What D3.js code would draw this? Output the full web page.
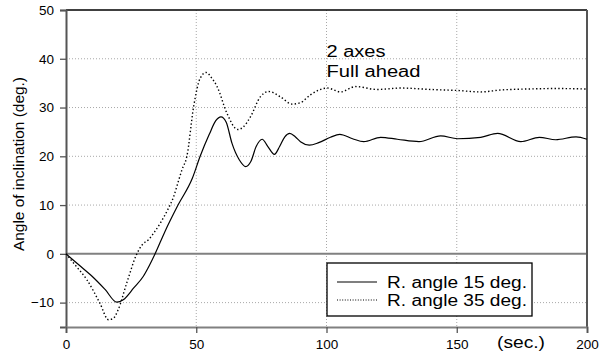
<!DOCTYPE html>
<html>
<head>
<meta charset="utf-8">
<script src="https://cdn.jsdelivr.net/npm/d3@7"></script>
<style>
  body { margin: 0; background: #fff; }
  text { font-family: "Liberation Sans", Arial, sans-serif; fill: #000; }
</style>
</head>
<body>
<div id="chart"></div>
<script>
// tick values
const xTicks = [0, 50, 100, 150, 200];
const yTicks = [-10, 0, 10, 20, 30, 40, 50];

// R. angle 15 deg. (solid)
const time15 = [0, 5, 10, 15, 19.5, 22, 26, 29.7, 32, 34.2, 38, 43, 48.5, 51.5, 55, 57.5, 59.5, 61.5, 63.7, 66.5, 69, 71, 73, 75.3, 77.5, 80, 82, 84, 85.9, 88, 90, 93.4, 97, 101.5, 105.1, 110, 114.3, 120.8, 127.2, 135.5, 143.8, 150.3, 159.2, 165.7, 174.6, 181.7, 188, 195.8, 200];
const angle15 = [0, -2.3, -4.6, -7.3, -9.9, -9.4, -7, -4.6, -2.4, 0, 4.6, 10, 15.5, 20, 24.5, 27.3, 28.1, 27, 22.7, 19.3, 17.9, 19, 22, 23.5, 22, 20.4, 22, 24, 24.7, 24, 23, 22.3, 22.8, 23.9, 24.5, 23.6, 23.0, 23.9, 23.5, 23.0, 24.2, 23.6, 23.9, 24.7, 23.0, 23.9, 23.4, 24.0, 23.5];

// R. angle 35 deg. (dotted)
const time35 = [0, 4, 8, 13, 16.3, 18, 20, 23.3, 27.2, 29.5, 31.7, 34, 36.2, 39, 41.3, 43.2, 44.5, 46.4, 49, 51.5, 53.8, 56, 58, 61.8, 65.9, 68, 70.8, 74.6, 77.8, 82.3, 86.8, 90, 93.8, 100.3, 105.4, 111.2, 119.5, 128.5, 140, 150.3, 159.2, 166.9, 177.2, 188, 200];
const angle35 = [0, -2.6, -5.3, -10.1, -13.5, -13.3, -11.5, -6, 0, 2, 2.9, 4.5, 6.3, 9, 11.7, 15, 17.2, 20, 30.2, 36, 37.2, 36, 34.3, 28.8, 25.5, 26, 28.1, 32.2, 33.3, 32.2, 30.7, 31, 32.6, 34, 33.2, 34.3, 33.7, 34, 33.7, 33.5, 33.2, 33.6, 33.8, 33.9, 33.8];

const legendLabels = ["R. angle 15 deg.", "R. angle 35 deg."];

const width = 605, height = 354;
const margin = { top: 10, right: 18, bottom: 27, left: 66 };
const innerW = width - margin.left - margin.right;
const innerH = height - margin.top - margin.bottom;

// the original text is drawn wider than Liberation Sans
function stretch(sel, w) {
  sel.attr("textLength", w).attr("lengthAdjust", "spacingAndGlyphs");
}

const svg = d3.select("#chart").append("svg")
  .attr("width", width)
  .attr("height", height);

const g = svg.append("g")
  .attr("transform", "translate(" + margin.left + "," + margin.top + ")");

const x = d3.scaleLinear().domain([0, 200]).range([0, innerW]);
const y = d3.scaleLinear().domain([-15, 50]).range([innerH, 0]);

// grid
g.selectAll(".hgrid").data(yTicks.filter(d => d !== 0 && d !== 50)).enter()
  .append("line")
  .attr("x1", 0).attr("x2", innerW)
  .attr("y1", d => y(d)).attr("y2", d => y(d))
  .attr("stroke", "#a8a8a8").attr("stroke-width", 1)
  .attr("stroke-dasharray", "1 2");

g.selectAll(".vgrid").data(xTicks.filter(d => d !== 0 && d !== 200)).enter()
  .append("line")
  .attr("x1", d => x(d)).attr("x2", d => x(d))
  .attr("y1", 0).attr("y2", innerH)
  .attr("stroke", "#a8a8a8").attr("stroke-width", 1)
  .attr("stroke-dasharray", "1 2");

// zero line
g.append("line")
  .attr("x1", 0).attr("x2", innerW)
  .attr("y1", y(0)).attr("y2", y(0))
  .attr("stroke", "#808080").attr("stroke-width", 2);

// frame: top and right
g.append("line").attr("x1", 0).attr("x2", innerW).attr("y1", 0).attr("y2", 0)
  .attr("stroke", "#000").attr("stroke-width", 1.5);
g.append("line").attr("x1", innerW).attr("x2", innerW).attr("y1", 0).attr("y2", innerH)
  .attr("stroke", "#555").attr("stroke-width", 2);

// axes
const yAxis = g.append("g")
  .call(d3.axisLeft(y).tickValues(yTicks).tickSize(6).tickPadding(6));
yAxis.select(".domain").attr("stroke", "#555").attr("stroke-width", 2);
yAxis.selectAll(".tick line").attr("stroke", "#555").attr("stroke-width", 1.3);
yAxis.selectAll("text").style("font-size", "13.5px")
  .style("font-family", "'Liberation Sans', Arial, sans-serif").attr("fill", "#000");

const xAxis = g.append("g")
  .attr("transform", "translate(0," + innerH + ")")
  .call(d3.axisBottom(x).tickValues(xTicks).tickSize(6).tickPadding(6));
xAxis.select(".domain").attr("stroke", "#808080").attr("stroke-width", 2);
xAxis.selectAll(".tick line").attr("stroke", "#555").attr("stroke-width", 1.3);
xAxis.selectAll("text").style("font-size", "13.5px")
  .style("font-family", "'Liberation Sans', Arial, sans-serif").attr("fill", "#000");

// curves
const line = d3.line()
  .x(d => x(d[0]))
  .y(d => y(d[1]))
  .curve(d3.curveMonotoneX);

g.append("path")
  .datum(d3.zip(time35, angle35))
  .attr("d", line)
  .attr("fill", "none")
  .attr("stroke", "#000")
  .attr("stroke-width", 1.4)
  .attr("stroke-dasharray", "1.4 2.3");

g.append("path")
  .datum(d3.zip(time15, angle15))
  .attr("d", line)
  .attr("fill", "none")
  .attr("stroke", "#000")
  .attr("stroke-width", 1.2);

// annotation
g.append("text").attr("x", x(100)).attr("y", 47)
  .style("font-size", "16px").text("2 axes")
  .call(stretch, 59);
g.append("text").attr("x", x(100)).attr("y", 67)
  .style("font-size", "16px").text("Full ahead")
  .call(stretch, 94);

// legend
const legend = g.append("g").attr("transform", "translate(" + (327 - margin.left) + "," + (263 - margin.top) + ")");
legend.append("rect")
  .attr("width", 205).attr("height", 53)
  .attr("fill", "#fff").attr("stroke", "#000").attr("stroke-width", 1.3);
legendLabels.forEach((lab, i) => {
  const ly = 19 + i * 18;
  legend.append("line")
    .attr("x1", 10).attr("x2", 50).attr("y1", ly).attr("y2", ly)
    .attr("stroke", "#000")
    .attr("stroke-width", 1.2)
    .attr("stroke-dasharray", i === 0 ? null : "1 1.6");
  legend.append("text")
    .attr("x", 60).attr("y", ly + 6)
    .style("font-size", "16px").text(lab)
    .call(stretch, 140);
});

// axis labels
svg.append("text")
  .attr("x", 497).attr("y", 348)
  .style("font-size", "16px").text("(sec.)")
  .call(stretch, 48);

svg.append("text")
  .attr("transform", "translate(24,164) rotate(-90)")
  .attr("text-anchor", "middle")
  .style("font-size", "14px").text("Angle of inclination (deg.)")
  .call(stretch, 174);
</script>
</body>
</html>
